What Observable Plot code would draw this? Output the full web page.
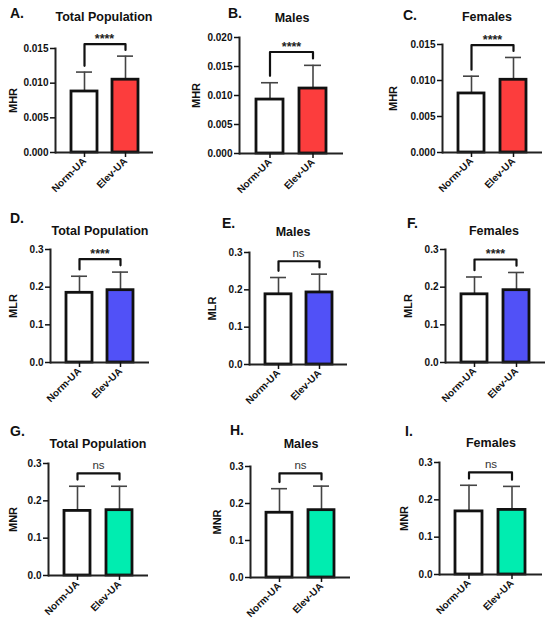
<!DOCTYPE html>
<html><head><meta charset="utf-8">
<script src="https://cdn.jsdelivr.net/npm/d3@7"></script>
<script src="https://cdn.jsdelivr.net/npm/@observablehq/plot@0.6"></script>
<style>
body{margin:0;background:#fff;}
#wrap{position:relative;width:550px;height:620px;background:#fff;font-family:"Liberation Sans",Arial,sans-serif;overflow:hidden;}
.panel{position:absolute;}
.letter{position:absolute;font-weight:bold;font-size:14px;line-height:1;color:#111;}
.title{position:absolute;font-weight:bold;font-size:12.5px;line-height:1;color:#111;transform:translateX(-50%);white-space:nowrap;}
g[aria-label="sig-stars"] text{letter-spacing:3px;}
</style></head><body><div id="wrap"></div>
<script>
// ---- data ----
const groups = ["Norm-UA", "Elev-UA"];
const letters = ["A.", "B.", "C.", "D.", "E.", "F.", "G.", "H.", "I."];
const titles = ["Total Population", "Males", "Females", "Total Population", "Males", "Females", "Total Population", "Males", "Females"];
const metrics = ["MHR", "MHR", "MHR", "MLR", "MLR", "MLR", "MNR", "MNR", "MNR"];
const means = [
  [0.0088, 0.0105], [0.0093, 0.0112], [0.0082, 0.0101],
  [0.185, 0.192], [0.188, 0.193], [0.181, 0.192],
  [0.173, 0.175], [0.175, 0.182], [0.169, 0.173]
];
const sds = [
  [0.0028, 0.0034], [0.0029, 0.0040], [0.0024, 0.0031],
  [0.044, 0.048], [0.045, 0.049], [0.046, 0.047],
  [0.066, 0.064], [0.065, 0.065], [0.070, 0.063]
];
const significance = ["****", "****", "****", "****", "ns", "****", "ns", "ns", "ns"];
const ticksMHR = [0, 0.005, 0.010, 0.015];
const ticksMHRMales = [0, 0.005, 0.010, 0.015, 0.020];
const ticksRatio = [0, 0.1, 0.2, 0.3];
const panelTicks = [ticksMHR, ticksMHRMales, ticksMHR, ticksRatio, ticksRatio, ticksRatio, ticksRatio, ticksRatio, ticksRatio];
const metricColors = {MHR: "#fc3d3d", MLR: "#5151f7", MNR: "#00edb0"};

// ---- layout (pixels): axisX, rightX, topY, zeroY, ylabelX, letterX, letterY, titleX, titleY ----
const layout = [
  [55, 153, 48, 152, 13, 10, 6, 104, 11],
  [239, 343, 37, 153, 196, 228, 6, 292, 12],
  [442, 542, 44, 152, 393, 403, 8, 487, 11],
  [50, 149, 249, 362, 13, 10, 211, 100, 225],
  [249, 347, 252, 364, 212, 222, 216, 293, 226],
  [445, 545, 249, 362, 408, 407, 216, 494, 225],
  [48, 148, 463, 575, 13, 10, 424, 98, 438],
  [250, 350, 466, 577, 217, 230, 423, 301, 438],
  [439, 542, 462, 574, 404, 405, 424, 491, 437]
];

const wrap = document.getElementById("wrap");
const mL = 60, mR = 6, mT = 45, mB = 52;

letters.forEach((letter, i) => {
  const [ax, rx, ty, zy, lx, ltx, lty, ttx, tty] = layout[i];
  const ticks = panelTicks[i];
  const maxTick = ticks[ticks.length - 1];
  const rows = groups.map((g, j) => ({group: g, mean: means[i][j], sd: sds[i][j], fill: j === 0 ? "#ffffff" : metricColors[metrics[i]]}));
  const errTops = rows.map(d => d.mean + d.sd);
  const top = d3.max(errTops) + 0.115 * maxTick;
  const bracket = [
    {group: groups[0], y: errTops[0] + 0.06 * maxTick},
    {group: groups[0], y: top},
    {group: groups[1], y: top},
    {group: groups[1], y: errTops[1] + 0.06 * maxTick}
  ];
  const sig = significance[i];
  const isStars = sig !== "ns";
  const plotW = rx - ax, plotH = zy - ty;
  const fmt = maxTick < 0.1 ? d3.format(".3f") : d3.format(".1f");

  const chart = Plot.plot({
    width: mL + plotW + mR,
    height: mT + plotH + mB,
    marginLeft: mL, marginRight: mR, marginTop: mT, marginBottom: mB,
    style: {fontFamily: "'Liberation Sans', Arial, sans-serif", fontWeight: "bold", color: "#111", background: "transparent", overflow: "visible"},
    x: {type: "band", domain: groups, padding: 0.37, label: null},
    y: {domain: [0, maxTick], label: null},
    color: {type: "identity"},
    marks: [
      Plot.ruleX(rows, {x: "group", y1: "mean", y2: d => d.mean + d.sd, stroke: "#444", strokeWidth: 1.6}),
      Plot.tickY(rows, {x: "group", y: d => d.mean + d.sd, stroke: "#444", strokeWidth: 1.6, insetLeft: 5, insetRight: 5}),
      Plot.barY(rows, {x: "group", y: "mean", fill: "fill", stroke: "#111", strokeWidth: 2.8}),
      Plot.frame({anchor: "left", stroke: "#222", strokeWidth: 2}),
      Plot.ruleY([0], {stroke: "#222", strokeWidth: 2}),
      Plot.axisY({ticks, tickFormat: fmt, tickSize: 5, tickPadding: 2, fontSize: 10, strokeWidth: 1.5, label: null}),
      Plot.axisX({tickRotate: -45, tickSize: 5, tickPadding: 2, fontSize: 10, strokeWidth: 1.5, label: null}),
      Plot.line(bracket, {x: "group", y: "y", stroke: "#111", strokeWidth: 2.2}),
      Plot.text([sig], {y: top, dy: isStars ? -1 : -4, lineAnchor: "bottom", fontSize: isStars ? 12.5 : 11.5, fontWeight: isStars ? "bold" : "normal", fill: isStars ? "#222" : "#333", ariaLabel: isStars ? "sig-stars" : "sig-ns"}),
      Plot.text([metrics[i]], {frameAnchor: "left", rotate: -90, dx: -(ax - lx), fontSize: 11, textAnchor: "middle", lineAnchor: "middle"})
    ]
  });
  chart.classList.add("panel");
  chart.style.left = (ax - mL) + "px";
  chart.style.top = (ty - mT) + "px";
  wrap.appendChild(chart);

  const le = document.createElement("div");
  le.className = "letter";
  le.textContent = letter;
  le.style.left = ltx + "px";
  le.style.top = lty + "px";
  wrap.appendChild(le);

  const te = document.createElement("div");
  te.className = "title";
  te.textContent = titles[i];
  te.style.left = ttx + "px";
  te.style.top = tty + "px";
  wrap.appendChild(te);
});
</script></body></html>
